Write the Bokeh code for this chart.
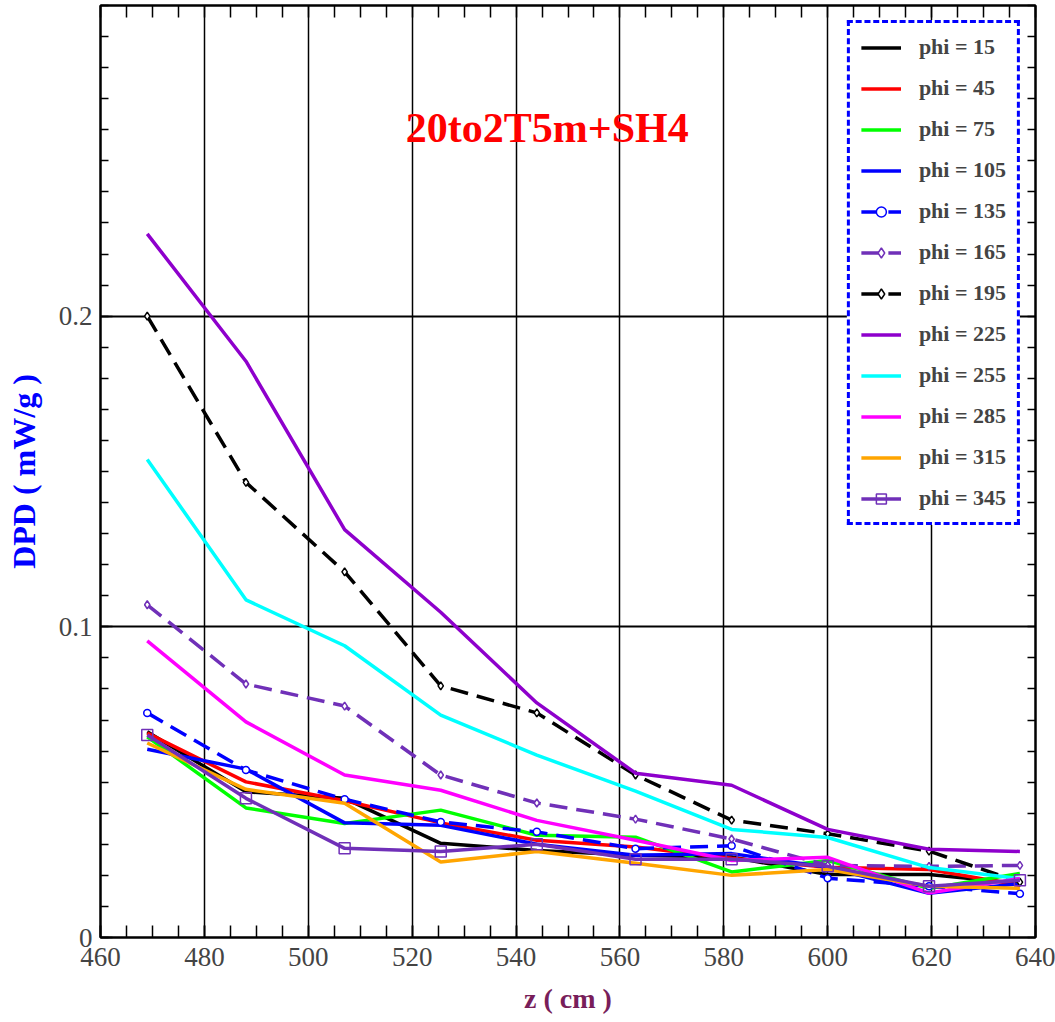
from bokeh.plotting import figure
from bokeh.models import FixedTicker, LinearAxis, Range1d, Label
from bokeh.embed import file_html
from bokeh.resources import INLINE

z = [469, 488, 507, 525.5, 544, 563, 581.5, 600, 619.5, 637]

phi15 = [0.0662, 0.0469, 0.0448, 0.0303, 0.0280, 0.0265, 0.0259, 0.0203, 0.0203, 0.0174]
phi45 = [0.0658, 0.0501, 0.0440, 0.0369, 0.0313, 0.0291, 0.0255, 0.0226, 0.0219, 0.0168]
phi75 = [0.0646, 0.0417, 0.0367, 0.0410, 0.0329, 0.0323, 0.0211, 0.0248, 0.0158, 0.0206]
phi105 = [0.0606, 0.0542, 0.0369, 0.0361, 0.0300, 0.0265, 0.0270, 0.0226, 0.0142, 0.0174]
phi135 = [0.0723, 0.0539, 0.0445, 0.0372, 0.0340, 0.0286, 0.0295, 0.0191, 0.0165, 0.0141]
phi165 = [0.1071, 0.0816, 0.0745, 0.0523, 0.0433, 0.0381, 0.0317, 0.0232, 0.0229, 0.0232]
phi195 = [0.2000, 0.1465, 0.1177, 0.0810, 0.0723, 0.0523, 0.0378, 0.0334, 0.0278, 0.0178]
phi225 = [0.2265, 0.1855, 0.1313, 0.1047, 0.0755, 0.0529, 0.0490, 0.0348, 0.0284, 0.0277]
phi255 = [0.1539, 0.1087, 0.0939, 0.0716, 0.0587, 0.0471, 0.0348, 0.0322, 0.0225, 0.0189]
phi285 = [0.0955, 0.0694, 0.0523, 0.0474, 0.0377, 0.0313, 0.0248, 0.0258, 0.0143, 0.0190]
phi315 = [0.0626, 0.0477, 0.0432, 0.0243, 0.0277, 0.0239, 0.0200, 0.0219, 0.0165, 0.0158]
phi345 = [0.0652, 0.0448, 0.0287, 0.0277, 0.0300, 0.0252, 0.0252, 0.0229, 0.0165, 0.0184]

labels = ["phi = 15", "phi = 45", "phi = 75", "phi = 105", "phi = 135", "phi = 165",
          "phi = 195", "phi = 225", "phi = 255", "phi = 285", "phi = 315", "phi = 345"]
series = [phi15, phi45, phi75, phi105, phi135, phi165,
          phi195, phi225, phi255, phi285, phi315, phi345]
colors = ["#000000", "#FF0000", "#00FF00", "#0000FF", "#0000FF", "#7030B8",
          "#000000", "#8E00CC", "#00FFFF", "#FF00FF", "#FFA500", "#7030B8"]
dashes = ["solid", "solid", "solid", "solid", "18 9", "18 9",
          "18 9", "solid", "solid", "solid", "solid", "solid"]
markers = [None, None, None, None, "circle", "diamond",
           "diamond", None, None, None, None, "square"]

x_major = [460, 480, 500, 520, 540, 560, 580, 600, 620, 640]
y_major = [0, 0.1, 0.2]

SERIF = "Liberation Serif"

p = figure(width=1055, height=1022, output_backend="svg", toolbar_location=None,
           x_range=Range1d(460, 640), y_range=Range1d(0, 0.3),
           min_border_left=100, min_border_right=20, min_border_top=5, min_border_bottom=85)

p.background_fill_color = "white"
p.border_fill_color = "white"
p.outline_line_color = "black"
p.outline_line_width = 2

x_minor = [460 + 5 * i for i in range(37)]
y_minor = [round(0.01 * i, 3) for i in range(31)]

for ax in p.xaxis:
    ax.ticker = FixedTicker(ticks=x_major, minor_ticks=x_minor)
    ax.axis_label = "z ( cm )"
    ax.axis_label_text_font = SERIF
    ax.axis_label_text_font_style = "bold"
    ax.axis_label_text_font_size = "28px"
    ax.axis_label_text_color = "#781E5A"
    ax.axis_label_standoff = 14
    ax.major_label_text_font = SERIF
    ax.major_label_text_font_size = "27px"
    ax.major_label_standoff = 10
    ax.major_tick_in = 12
    ax.major_tick_out = 0
    ax.minor_tick_in = 12
    ax.minor_tick_out = 0
    ax.axis_line_width = 2
    ax.major_tick_line_width = 1.5
    ax.minor_tick_line_width = 1.5

for ax in p.yaxis:
    ax.ticker = FixedTicker(ticks=y_major, minor_ticks=y_minor)
    ax.axis_label = "DPD ( mW/g )"
    ax.axis_label_text_font = SERIF
    ax.axis_label_text_font_style = "bold"
    ax.axis_label_text_font_size = "32px"
    ax.axis_label_text_color = "#0000FF"
    ax.axis_label_standoff = 14
    ax.major_label_text_font = SERIF
    ax.major_label_text_font_size = "27px"
    ax.major_label_standoff = 8
    ax.major_label_overrides = {0: "0", 0.1: "0.1", 0.2: "0.2"}
    ax.major_tick_in = 12
    ax.major_tick_out = 0
    ax.minor_tick_in = 8
    ax.minor_tick_out = 0
    ax.axis_line_width = 2
    ax.major_tick_line_width = 1.5
    ax.minor_tick_line_width = 1.5

# mirrored tick marks (no labels: every tick is drawn as a minor tick)
right = LinearAxis(ticker=FixedTicker(ticks=[], minor_ticks=y_minor))
top = LinearAxis(ticker=FixedTicker(ticks=[], minor_ticks=x_minor))
for ax, mt in ((right, 8), (top, 12)):
    ax.major_label_standoff = 0
    ax.major_tick_in = 0
    ax.major_tick_out = 0
    ax.minor_tick_in = mt
    ax.minor_tick_out = 0
    ax.axis_line_width = 2
    ax.minor_tick_line_width = 1.5
p.add_layout(right, "right")
p.add_layout(top, "above")

p.xgrid.ticker = FixedTicker(ticks=x_major[1:-1])
p.ygrid.ticker = FixedTicker(ticks=[0.1, 0.2])
p.xgrid.grid_line_color = "black"
p.xgrid.grid_line_width = 1.5
p.ygrid.grid_line_color = "black"
p.ygrid.grid_line_width = 2

for lab, ys, col, dash, mk in zip(labels, series, colors, dashes, markers):
    p.line(z, ys, line_color=col, line_width=3.5, line_dash=dash, legend_label=lab)
    if mk == "circle":
        p.scatter(z, ys, marker="circle", size=7, line_color=col, fill_color="white",
                  line_width=1.5, legend_label=lab)
    elif mk == "diamond":
        p.scatter(z, ys, marker="diamond", size=8, line_color=col, fill_color="white",
                  line_width=1.5, legend_label=lab)
    elif mk == "square":
        p.scatter(z, ys, marker="square", size=11, line_color=col, fill_color=None,
                  line_width=1.5, legend_label=lab)

title = Label(x=546, y=0.2605, text="20to2T5m+SH4", text_color="#FF0000",
              text_font=SERIF, text_font_style="bold", text_font_size="42px",
              text_align="center", text_baseline="middle")
p.add_layout(title)

lg = p.legend[0]
lg.location = "top_right"
lg.margin = 15
lg.padding = 11
lg.spacing = 15
lg.glyph_width = 40
lg.glyph_height = 25
lg.label_height = 25
lg.label_standoff = 18
lg.label_text_font = SERIF
lg.label_text_font_style = "bold"
lg.label_text_font_size = "22px"
lg.border_line_color = "#0000FF"
lg.border_line_alpha = 1.0
lg.border_line_width = 3
lg.border_line_dash = "16 8"
lg.background_fill_color = "white"
lg.background_fill_alpha = 1.0

open("out.html", "w").write(file_html(p, INLINE))
